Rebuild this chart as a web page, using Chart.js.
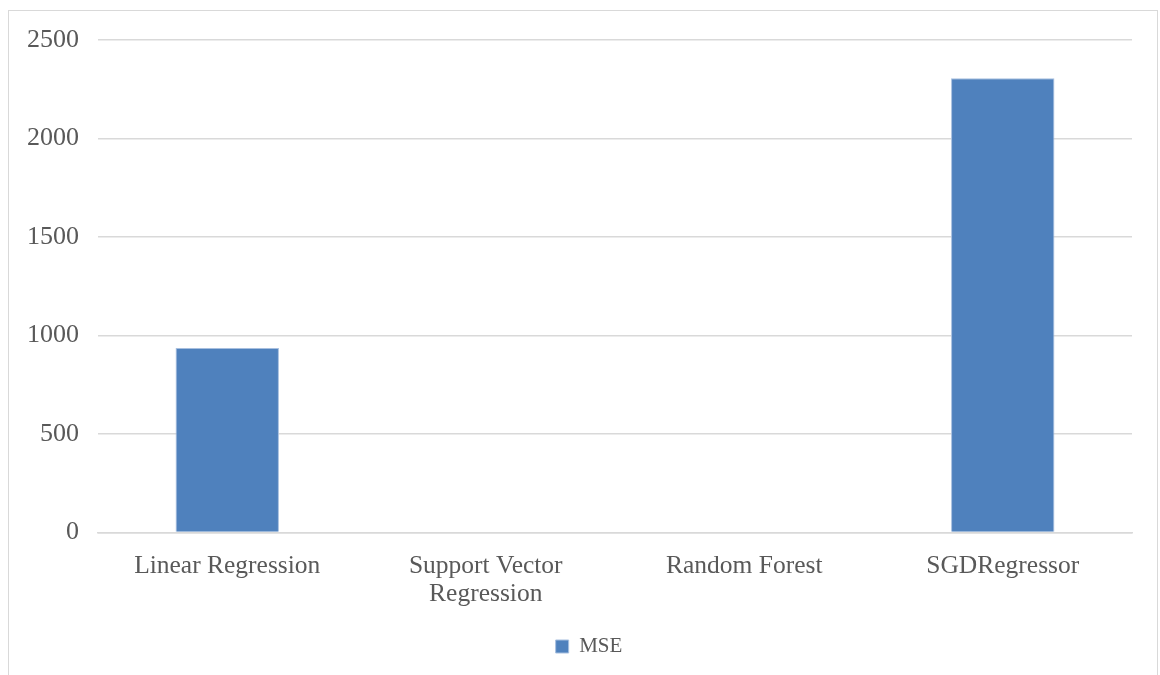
<!DOCTYPE html>
<html>
<head>
<meta charset="utf-8">
<script src="https://cdn.jsdelivr.net/npm/chart.js@4/dist/chart.umd.min.js"></script>
<style>
  html, body { margin: 0; padding: 0; background: #ffffff; }
  #wrap { position: relative; width: 1160px; height: 675px; overflow: hidden; }
  #frame { position: absolute; left: 8px; top: 10px; width: 1150px; height: 700px; border: 1px solid #d9d9d9; box-sizing: border-box; }
  #chart { position: absolute; left: 0; top: 0; }
</style>
</head>
<body>
<div id="wrap">
  <div id="frame"></div>
  <canvas id="chart" width="1160" height="675"></canvas>
</div>
<script>
// Chart data
const categories = ['Linear Regression', ['Support Vector', 'Regression'], 'Random Forest', 'SGDRegressor'];
const seriesName = 'MSE';
const mseValues = [937, 0, 0, 2306];
const yTicks = [0, 500, 1000, 1500, 2000, 2500];

const textColor = '#595959';
const gridColor = '#d9d9d9';
const barColor = '#4f81bd';
const fontFamily = '"Liberation Serif", "DejaVu Serif", serif';

// nudge the legend a bit right, like the original sheet
const legendShift = {
    id: 'legendShift',
    afterLayout(chart) {
        if (chart.legend) {
            chart.legend.left += 23;
            chart.legend.right += 23;
        }
    }
};

const ctx = document.getElementById('chart').getContext('2d');
new Chart(ctx, {
    type: 'bar',
    data: {
        labels: categories,
        datasets: [{
            label: seriesName,
            data: mseValues,
            backgroundColor: barColor,
            borderColor: '#a7bfdf',
            borderWidth: 1,
            categoryPercentage: 0.8,
            barPercentage: 0.5
        }]
    },
    plugins: [legendShift],
    options: {
        responsive: false,
        animation: false,
        layout: { padding: { left: 0, right: 28, top: 40, bottom: 8 } },
        plugins: {
            legend: {
                position: 'bottom',
                labels: {
                    color: textColor,
                    font: { family: fontFamily, size: 21 },
                    boxWidth: 13,
                    boxHeight: 13,
                    padding: 10
                }
            },
            tooltip: { enabled: false }
        },
        scales: {
            x: {
                grid: { display: false, drawTicks: false },
                border: { display: true, color: gridColor, width: 1.5 },
                ticks: {
                    color: textColor,
                    font: { family: fontFamily, size: 25.5, lineHeight: 1.1 },
                    padding: 20,
                    maxRotation: 0,
                    autoSkip: false
                },
                afterFit: scale => { scale.height = 93.5; }
            },
            y: {
                min: 0,
                max: 2500,
                grid: { color: gridColor, lineWidth: 1.5, drawTicks: false },
                border: { display: false },
                ticks: {
                    color: textColor,
                    font: { family: fontFamily, size: 26 },
                    padding: 19,
                    stepSize: 500,
                    callback: v => yTicks.includes(v) ? String(v) : ''
                },
                afterFit: scale => { scale.width = 98; }
            }
        }
    }
});
</script>
</body>
</html>
